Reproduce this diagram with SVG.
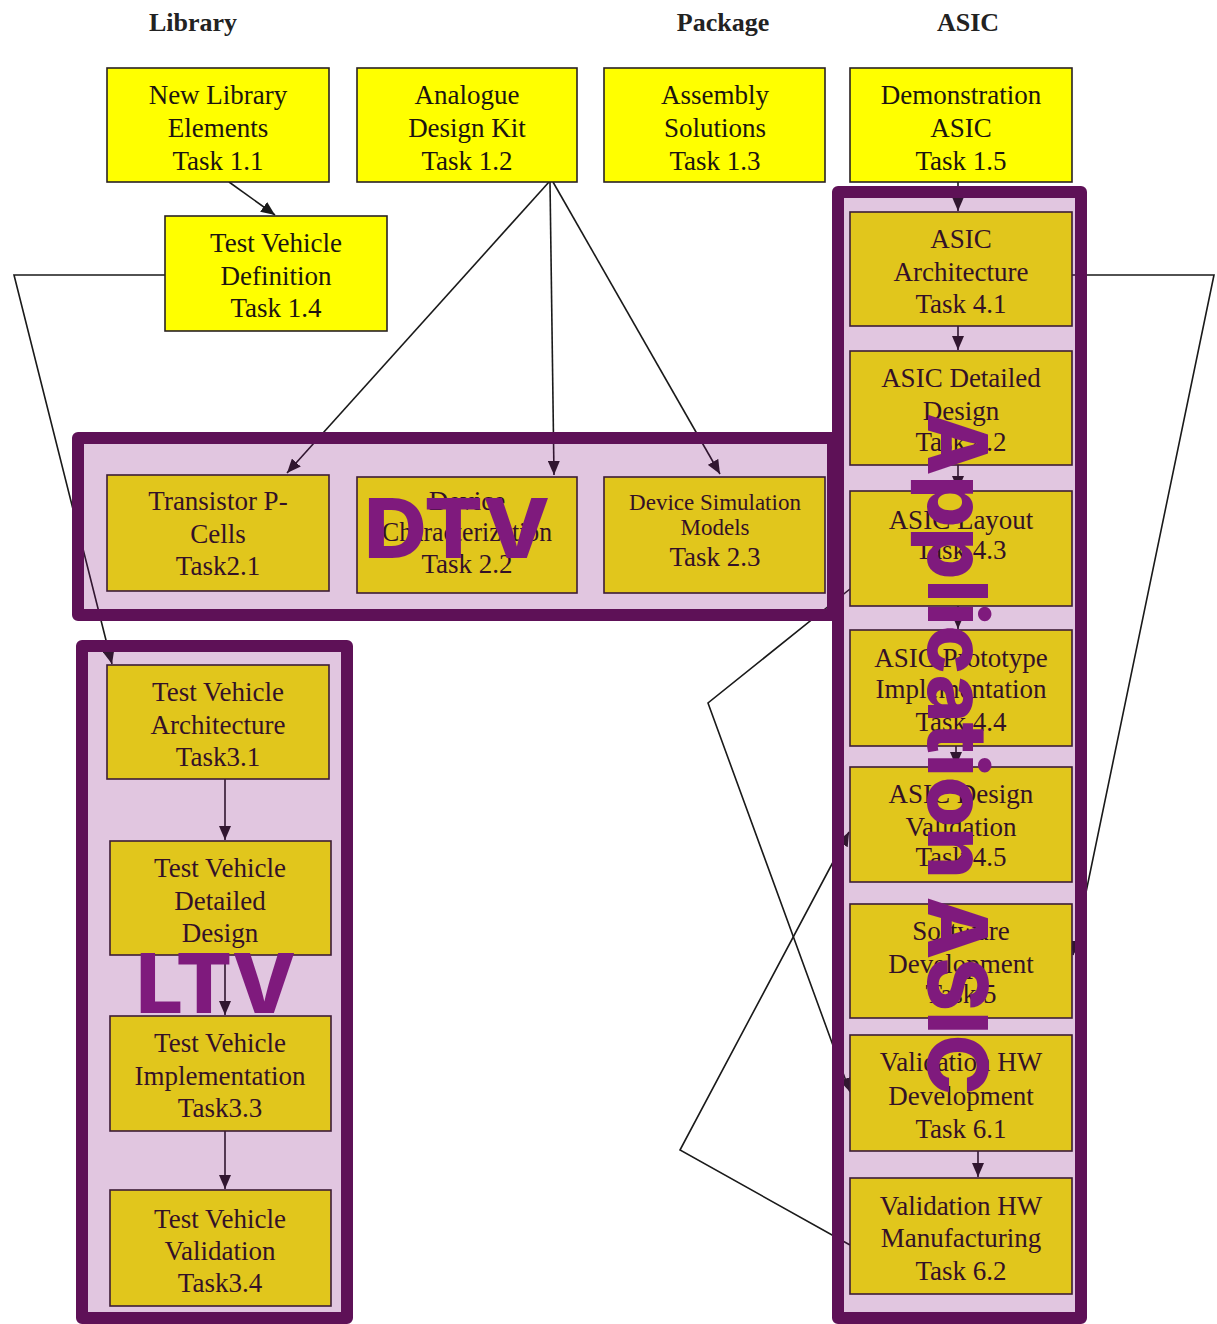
<svg xmlns="http://www.w3.org/2000/svg" width="1217" height="1324" viewBox="0 0 1217 1324">
  <style>
    .hdr { font-family: "Liberation Serif", "Times New Roman", serif; font-weight: bold; font-size: 26px; fill: #222; text-anchor: middle; }
    .box { fill: #ffff00; stroke: #2a2222; stroke-width: 1.6; }
    .txt { font-family: "Liberation Serif", "Times New Roman", serif; font-size: 27px; fill: #1c1410; text-anchor: middle; }
    .sm { font-size: 23px; }
    .edge { fill: none; stroke: #1a1a1a; stroke-width: 1.6; }
    .grp { fill: #7d0a7a; fill-opacity: 0.23; stroke: #5e1157; stroke-width: 12; stroke-linejoin: round; }
    .glabel { font-family: Inter, "Open Sans", "DejaVu Sans", sans-serif; font-weight: 800; font-size: 82px; fill: #7f1a7d; }
  </style>
  <defs>
    <marker id="arrow" markerUnits="userSpaceOnUse" markerWidth="14" markerHeight="12" refX="14" refY="6" orient="auto">
      <path d="M0,0 L14,6 L0,12 z" fill="#1a1a1a"/>
    </marker>
  </defs>

  <rect width="1217" height="1324" fill="#ffffff"/>

  <!-- column headings -->
  <g id="headings">
    <text class="hdr" x="193" y="31">Library</text>
    <text class="hdr" x="723" y="31">Package</text>
    <text class="hdr" x="968" y="31">ASIC</text>
  </g>

  <!-- dependencies -->
  <g id="connectors">
    <path class="edge" d="M229,182 L275,215" marker-end="url(#arrow)"/>
    <path class="edge" d="M549,182 L287,473" marker-end="url(#arrow)"/>
    <path class="edge" d="M550,182 L554,475" marker-end="url(#arrow)"/>
    <path class="edge" d="M553,182 L720,474" marker-end="url(#arrow)"/>
    <path class="edge" d="M165,275 L14,275 L112,664" marker-end="url(#arrow)"/>
    <path class="edge" d="M958,182 L958,211" marker-end="url(#arrow)"/>
    <path class="edge" d="M958,326 L958,350" marker-end="url(#arrow)"/>
    <path class="edge" d="M958,465 L958,490" marker-end="url(#arrow)"/>
    <path class="edge" d="M958,606 L958,629" marker-end="url(#arrow)"/>
    <path class="edge" d="M956,746 L956,766" marker-end="url(#arrow)"/>
    <path class="edge" d="M978,1151 L978,1177" marker-end="url(#arrow)"/>
    <path class="edge" d="M1072,275 L1214,275 L1073,955" marker-end="url(#arrow)"/>
    <path class="edge" d="M850,589 L708,703 L850,1092" marker-end="url(#arrow)"/>
    <path class="edge" d="M850,1245 L680,1150 L849,832" marker-end="url(#arrow)"/>
    <path class="edge" d="M225,779 L225,840" marker-end="url(#arrow)"/>
    <path class="edge" d="M225,955 L225,1015" marker-end="url(#arrow)"/>
    <path class="edge" d="M225,1131 L225,1189" marker-end="url(#arrow)"/>
  </g>

  <!-- tasks -->
  <g id="t1_1">
    <rect class="box" x="107" y="68" width="222" height="114"/>
    <text class="txt" x="218" y="104">New Library</text>
    <text class="txt" x="218" y="137">Elements</text>
    <text class="txt" x="218" y="170">Task 1.1</text>
  </g>
  <g id="t1_2">
    <rect class="box" x="357" y="68" width="220" height="114"/>
    <text class="txt" x="467" y="104">Analogue</text>
    <text class="txt" x="467" y="137">Design Kit</text>
    <text class="txt" x="467" y="170">Task 1.2</text>
  </g>
  <g id="t1_3">
    <rect class="box" x="604" y="68" width="221" height="114"/>
    <text class="txt" x="715" y="104">Assembly</text>
    <text class="txt" x="715" y="137">Solutions</text>
    <text class="txt" x="715" y="170">Task 1.3</text>
  </g>
  <g id="t1_5">
    <rect class="box" x="850" y="68" width="222" height="114"/>
    <text class="txt" x="961" y="104">Demonstration</text>
    <text class="txt" x="961" y="137">ASIC</text>
    <text class="txt" x="961" y="170">Task 1.5</text>
  </g>
  <g id="t1_4">
    <rect class="box" x="165" y="216" width="222" height="115"/>
    <text class="txt" x="276" y="252">Test Vehicle</text>
    <text class="txt" x="276" y="285">Definition</text>
    <text class="txt" x="276" y="317">Task 1.4</text>
  </g>

  <g id="t2_1">
    <rect class="box" x="107" y="475" width="222" height="116"/>
    <text class="txt" x="218" y="510">Transistor P-</text>
    <text class="txt" x="218" y="543">Cells</text>
    <text class="txt" x="218" y="575">Task2.1</text>
  </g>
  <g id="t2_2">
    <rect class="box" x="357" y="477" width="220" height="116"/>
    <text class="txt" x="467" y="510">Device</text>
    <text class="txt" x="467" y="541" textLength="170" lengthAdjust="spacingAndGlyphs">Characterization</text>
    <text class="txt" x="467" y="573">Task 2.2</text>
  </g>
  <g id="t2_3">
    <rect class="box" x="604" y="477" width="221" height="116"/>
    <text class="txt sm" x="715" y="510">Device Simulation</text>
    <text class="txt sm" x="715" y="535">Models</text>
    <text class="txt" x="715" y="566">Task 2.3</text>
  </g>

  <g id="t3_1">
    <rect class="box" x="107" y="665" width="222" height="114"/>
    <text class="txt" x="218" y="701">Test Vehicle</text>
    <text class="txt" x="218" y="734">Architecture</text>
    <text class="txt" x="218" y="766">Task3.1</text>
  </g>
  <g id="t3_2">
    <rect class="box" x="110" y="841" width="221" height="114"/>
    <text class="txt" x="220" y="877">Test Vehicle</text>
    <text class="txt" x="220" y="910">Detailed</text>
    <text class="txt" x="220" y="942">Design</text>
  </g>
  <g id="t3_3">
    <rect class="box" x="110" y="1016" width="221" height="115"/>
    <text class="txt" x="220" y="1052">Test Vehicle</text>
    <text class="txt" x="220" y="1085">Implementation</text>
    <text class="txt" x="220" y="1117">Task3.3</text>
  </g>
  <g id="t3_4">
    <rect class="box" x="110" y="1190" width="221" height="116"/>
    <text class="txt" x="220" y="1228">Test Vehicle</text>
    <text class="txt" x="220" y="1260">Validation</text>
    <text class="txt" x="220" y="1292">Task3.4</text>
  </g>

  <g id="t4_1">
    <rect class="box" x="850" y="212" width="222" height="114"/>
    <text class="txt" x="961" y="248">ASIC</text>
    <text class="txt" x="961" y="281">Architecture</text>
    <text class="txt" x="961" y="313">Task 4.1</text>
  </g>
  <g id="t4_2">
    <rect class="box" x="850" y="351" width="222" height="114"/>
    <text class="txt" x="961" y="387">ASIC Detailed</text>
    <text class="txt" x="961" y="420">Design</text>
    <text class="txt" x="961" y="451">Task 4.2</text>
  </g>
  <g id="t4_3">
    <rect class="box" x="850" y="491" width="222" height="115"/>
    <text class="txt" x="961" y="529">ASIC Layout</text>
    <text class="txt" x="961" y="559">Task 4.3</text>
  </g>
  <g id="t4_4">
    <rect class="box" x="850" y="630" width="222" height="116"/>
    <text class="txt" x="961" y="667">ASIC Prototype</text>
    <text class="txt" x="961" y="698">Implementation</text>
    <text class="txt" x="961" y="731">Task 4.4</text>
  </g>
  <g id="t4_5">
    <rect class="box" x="850" y="767" width="222" height="115"/>
    <text class="txt" x="961" y="803">ASIC Design</text>
    <text class="txt" x="961" y="836">Validation</text>
    <text class="txt" x="961" y="866">Task 4.5</text>
  </g>
  <g id="t5">
    <rect class="box" x="850" y="904" width="222" height="114"/>
    <text class="txt" x="961" y="940">Software</text>
    <text class="txt" x="961" y="973">Development</text>
    <text class="txt" x="961" y="1003">Task 5</text>
  </g>
  <g id="t6_1">
    <rect class="box" x="850" y="1035" width="222" height="116"/>
    <text class="txt" x="961" y="1071">Validation HW</text>
    <text class="txt" x="961" y="1105">Development</text>
    <text class="txt" x="961" y="1138">Task 6.1</text>
  </g>
  <g id="t6_2">
    <rect class="box" x="850" y="1178" width="222" height="116"/>
    <text class="txt" x="961" y="1215">Validation HW</text>
    <text class="txt" x="961" y="1247">Manufacturing</text>
    <text class="txt" x="961" y="1280">Task 6.2</text>
  </g>

  <!-- highlight frames laid over the task groups -->
  <g id="dtv">
    <rect class="grp" x="78" y="438" width="755" height="177"/>
    <text class="glabel" x="364" y="558" textLength="186" lengthAdjust="spacingAndGlyphs">DTV</text>
  </g>
  <g id="ltv">
    <rect class="grp" x="82" y="646" width="265" height="672"/>
    <text class="glabel" x="136" y="1013" textLength="160" lengthAdjust="spacingAndGlyphs">LTV</text>
  </g>
  <g id="app_asic">
    <rect class="grp" x="838" y="192" width="243" height="1126"/>
    <text class="glabel" transform="translate(928,413) rotate(90)" x="0" y="0" textLength="682" lengthAdjust="spacingAndGlyphs">Application ASIC</text>
  </g>
</svg>
